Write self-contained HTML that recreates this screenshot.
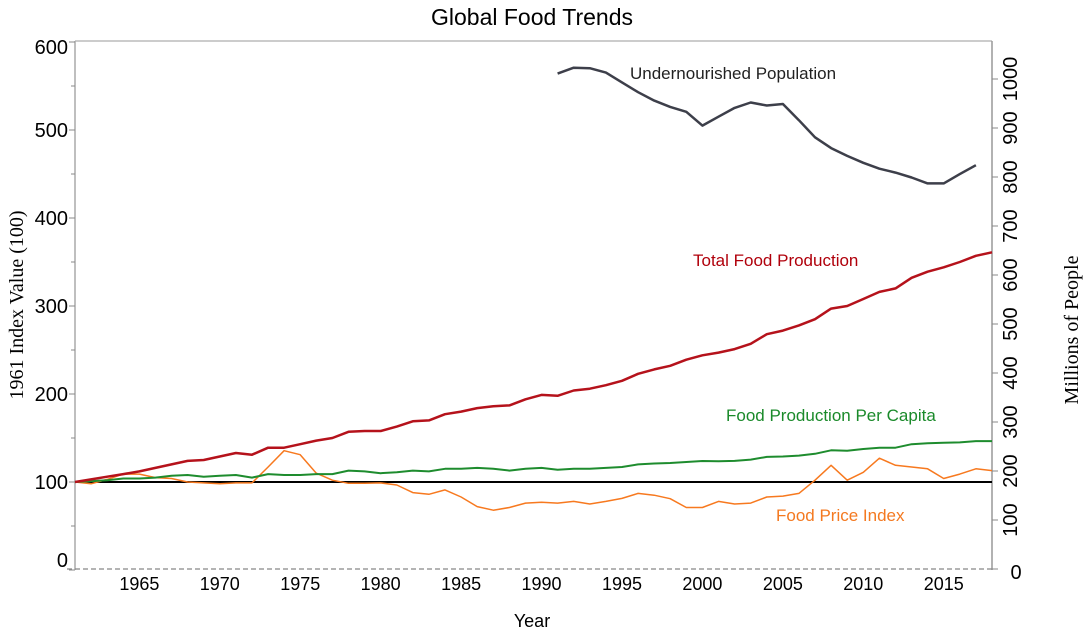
<!DOCTYPE html>
<html><head><meta charset="utf-8"><style>
body{margin:0;background:#fff;}
svg text{font-family:"Liberation Sans",sans-serif;}
.serif{font-family:"Liberation Serif",serif !important;}
</style></head><body>
<svg id="chart" width="1084" height="633" viewBox="0 0 1084 633" xmlns="http://www.w3.org/2000/svg">
<text x="532" y="25" text-anchor="middle" font-size="23" fill="#000">Global Food Trends</text>
<g id="axes"></g>
<g id="series"></g>
<text x="532" y="627" text-anchor="middle" font-size="18">Year</text>
<text class="serif" transform="translate(23,305) rotate(-90)" text-anchor="middle" font-size="20">1961 Index Value (100)</text>
<text class="serif" transform="translate(1078,330) rotate(-90)" text-anchor="middle" font-size="20">Millions of People</text>
<text x="630" y="79" font-size="17" fill="#222">Undernourished Population</text>
<text x="693" y="266" font-size="17" fill="#b0000b">Total Food Production</text>
<text x="726" y="421" font-size="17" fill="#1a8a2a">Food Production Per Capita</text>
<text x="776" y="521" font-size="17" fill="#f47920">Food Price Index</text>
</svg>
<script>
const years = [];
for (let y = 1961; y <= 2018; y++) years.push(y);
const totalFood = [100,103,106,109,112,116,120,124,125,129,133,131,139,139,143,147,150,157,158,158,163,169,170,177,180,184,186,187,194,199,198,204,206,210,215,223,228,232,239,244,247,251,257,268,272,278,285,297,300,308,316,320,332,339,344,350,357,361];
const perCapita = [100,101,102,104,104,105,107,108,106,107,108,105,109,108,108,109,109,113,112,110,111,113,112,115,115,116,115,113,115,116,114,115,115,116,117,120,121,121.6,122.7,123.9,123.5,124,125.5,128.5,129,130,132,136,135.6,137.5,139,139,143,144,144.5,145,146.5,146.5];
const priceIndex = [100,98,103,109,109,105,104,100,99,98,99,99,117,135.6,131,110,102,98.5,98.5,99,96.6,88,86,91,83,72,68,71,76,77,76,78,75,78,81.4,87,85,81,71,71,78,75,76,83,84,87,102,119,102,111,127,119,117,115,104,109,115,113];
const underYears = [1991,1992,1993,1994,1995,1996,1997,1998,1999,2000,2001,2002,2003,2004,2005,2006,2007,2008,2009,2010,2011,2012,2013,2014,2015,2016,2017];
const undernourished = [1011,1023,1022,1013,993,973,956,943,933,905,923,941,952,946,949,916,881,859,843,829,817,809,799,787,787,806,824];
const leftTicks = [0,100,200,300,400,500,600];
const rightTicks = [0,100,200,300,400,500,600,700,800,900,1000];
const xTicks = [1965,1970,1975,1980,1985,1990,1995,2000,2005,2010,2015];

const NS = "http://www.w3.org/2000/svg";
const X0 = 75, X1 = 992, Y0 = 570;
const xs = yr => X0 + (yr - 1961) * (X1 - X0) / (2018 - 1961);
const yl = v => Y0 - v * 0.88;
const yr_ = v => 569 - v * 0.49;
function mk(tag, attrs, parent) {
  const e = document.createElementNS(NS, tag);
  for (const k in attrs) e.setAttribute(k, attrs[k]);
  parent.appendChild(e);
  return e;
}
const axes = document.getElementById('axes');
const ser = document.getElementById('series');

let e;
e = mk('line', {x1:X0, y1:41, x2:X1, y2:41, stroke:'#bbb', 'stroke-width':1.5}, axes);


e = mk('line', {x1:X0, y1:41, x2:X0, y2:Y0, stroke:'#aaa', 'stroke-width':1.5}, axes);


e = mk('line', {x1:X1, y1:41, x2:X1, y2:Y0, stroke:'#999', 'stroke-width':1.5}, axes);


e = mk('line', {x1:X0 - 8, y1:569, x2:X1, y2:569, stroke:'#888', 'stroke-width':1.3, 'stroke-dasharray':'5,3'}, axes);



leftTicks.forEach(v => {
  const y = yl(v);
  let t = mk('line', {x1:X0 - 6, y1:y, x2:X0, y2:y, stroke:'#888'}, axes);
  
  
  if (v < 600) {
    let m = mk('line', {x1:X0 - 4, y1:yl(v + 50), x2:X0, y2:yl(v + 50), stroke:'#888'}, axes);
    
    
  }
  let ly = Math.min(Math.max(y, 47), 560);
  let l = mk('text', {x:X0 - 7, y:ly + 7, 'text-anchor':'end', 'font-size':20}, axes);
  l.textContent = v;
  
  
});
rightTicks.forEach(v => {
  const y = yr_(v);
  let t = mk('line', {x1:X1, y1:y, x2:X1 + 6, y2:y, stroke:'#888'}, axes);
  
  
  let l;
  if (v === 0) {
    l = mk('text', {x:1016, y:y + 10, 'text-anchor':'middle', 'font-size':20}, axes);
  } else {
    l = mk('text', {transform:`translate(1017,${y}) rotate(-90)`, 'text-anchor':'middle', 'font-size':20}, axes);
  }
  l.textContent = v;
  
  
});
xTicks.forEach(v => {
  let l = mk('text', {x:xs(v), y:590, 'text-anchor':'middle', 'font-size':18}, axes);
  l.textContent = v;
  
  
});

e = mk('line', {x1:X0, y1:yl(100), x2:X1, y2:yl(100), stroke:'#000', 'stroke-width':2}, ser);



function line(xv, vals, yf, color, w) {
  const pts = vals.map((v, i) => xs(xv[i]).toFixed(1) + ',' + yf(v).toFixed(1)).join(' ');
  return mk('polyline', {points:pts, fill:'none', stroke:color, 'stroke-width':w, 'stroke-linejoin':'round'}, ser);
}
let s;
s = line(years, priceIndex, yl, '#f7791f', 1.5);


s = line(years, perCapita, yl, '#1e8c2e', 2);


s = line(years, totalFood, yl, '#b5121b', 2.5);


s = line(underYears, undernourished, yr_, '#3d3f4a', 2.5);


</script>
</body></html>
